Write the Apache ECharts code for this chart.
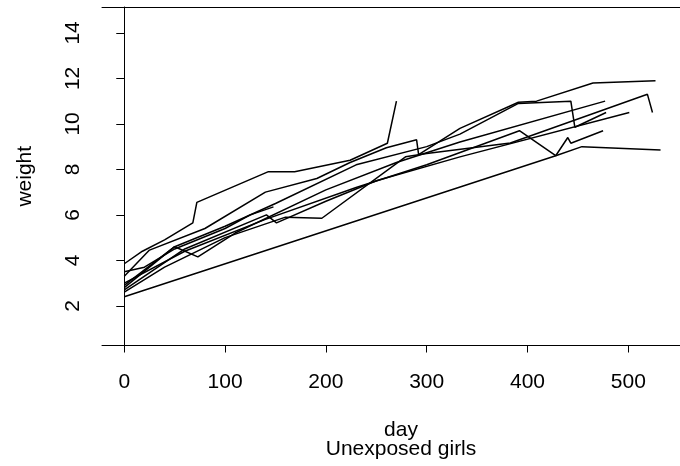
<!DOCTYPE html>
<html>
<head>
<meta charset="utf-8">
<script src="https://cdn.jsdelivr.net/npm/echarts@6/dist/echarts.min.js"></script>
<style>
  html, body { margin: 0; padding: 0; background: #fff; }
  #chart { width: 680px; height: 466px; }
</style>
</head>
<body>
<div id="chart"></div>
<script>
// tick labels
const dayTicks = [0, 100, 200, 300, 400, 500];
const weightTicks = [2, 4, 6, 8, 10, 12, 14];

// one pair of arrays per girl (day, weight)
const g1Day = [0, 18, 40, 68, 72, 143, 169, 224, 261, 270];
const g1Wt = [3.85, 4.4, 4.9, 5.65, 6.55, 7.9, 7.9, 8.4, 9.15, 11.0];
const g2Day = [0, 25, 80, 140, 191, 224, 260, 290, 292, 333, 391, 409, 465, 527];
const g2Wt = [3.3, 4.45, 5.4, 7.0, 7.6, 8.3, 8.95, 9.3, 8.65, 9.8, 10.95, 11.0, 11.8, 11.9];
const g3Day = [0, 50, 100, 150, 230, 300, 333, 391, 443, 447, 478];
const g3Wt = [2.9, 4.6, 5.5, 6.5, 8.2, 9.0, 9.55, 10.9, 11.0, 9.85, 10.5];
const g4Day = [0, 50, 73, 110, 200, 270, 333, 477];
const g4Wt = [2.8, 4.6, 4.15, 5.2, 7.1, 8.3, 9.2, 11.0];
const g5Day = [0, 60, 141, 151, 200, 250, 333, 501];
const g5Wt = [2.7, 4.5, 6.0, 5.65, 6.6, 7.5, 8.55, 10.5];
const g6Day = [0, 60, 140, 230, 300, 392, 428, 440, 443, 475];
const g6Wt = [3.0, 4.4, 5.8, 7.2, 8.2, 9.7, 8.6, 9.4, 9.15, 9.7];
const g7Day = [0, 428, 454, 532];
const g7Wt = [2.4, 8.6, 9.0, 8.85];
const g8Day = [0, 20, 50, 100, 125, 148];
const g8Wt = [3.5, 3.7, 4.5, 5.4, 6.0, 6.35];
const g9Day = [0, 40, 100, 160, 196, 279, 300, 383, 519, 524];
const g9Wt = [2.6, 3.7, 5.0, 5.9, 5.85, 8.55, 8.7, 9.16, 11.3, 10.5];

const girls = [
  [g1Day, g1Wt], [g2Day, g2Wt], [g3Day, g3Wt], [g4Day, g4Wt], [g5Day, g5Wt],
  [g6Day, g6Wt], [g7Day, g7Wt], [g8Day, g8Wt], [g9Day, g9Wt],
];

const font = "'Liberation Sans', Arial, Helvetica, sans-serif";
const chart = echarts.init(document.getElementById("chart"));

let series = [];
girls.forEach((g) => {
  series.push({
    type: "line",
    showSymbol: false,
    symbol: "none",
    silent: true,
    lineStyle: { color: "#000", width: 1.5 },
    data: g[0].map((d, i) => [d, g[1][i]]),
  });
});

const option = {
  animation: false,
  backgroundColor: "#fff",
  grid: { left: 102, right: 0, top: 7, bottom: 120.5 },
  xAxis: [
    {
      type: "value",
      position: "bottom",
      min: -22.1,
      max: 551.3,
      splitLine: { show: false },
      axisLine: { lineStyle: { color: "#000", width: 1 } },
      axisTick: { length: 7, lineStyle: { color: "#000" }, customValues: dayTicks },
      axisLabel: {
        customValues: dayTicks,
        color: "#000",
        fontSize: 21,
        fontFamily: font,
        margin: 26,
      },
    },
    {
      // top border of the box
      type: "value",
      position: "top",
      min: -22.1,
      max: 551.3,
      splitLine: { show: false },
      axisLine: { lineStyle: { color: "#000", width: 1 } },
      axisTick: { show: false },
      axisLabel: { show: false },
    },
  ],
  yAxis: {
    type: "value",
    min: 0.255,
    max: 15.14,
    name: "weight",
    nameLocation: "middle",
    nameGap: 66,
    nameTextStyle: { color: "#000", fontSize: 21, fontFamily: font },
    splitLine: { show: false },
    axisLine: { lineStyle: { color: "#000", width: 1 } },
    axisTick: { length: 8, lineStyle: { color: "#000" }, customValues: weightTicks },
    axisLabel: {
      customValues: weightTicks,
      rotate: 90,
      color: "#000",
      fontSize: 21,
      fontFamily: font,
      margin: 18,
    },
  },
  graphic: [
    {
      type: "text",
      x: 401,
      y: 430,
      style: { text: "day", fill: "#000", font: "21px " + font, textAlign: "center", textVerticalAlign: "middle" },
    },
    {
      type: "text",
      x: 401,
      y: 449,
      style: { text: "Unexposed girls", fill: "#000", font: "21px " + font, textAlign: "center", textVerticalAlign: "middle" },
    },
  ],
  series: series,
};
chart.setOption(option);
</script>
</body>
</html>
